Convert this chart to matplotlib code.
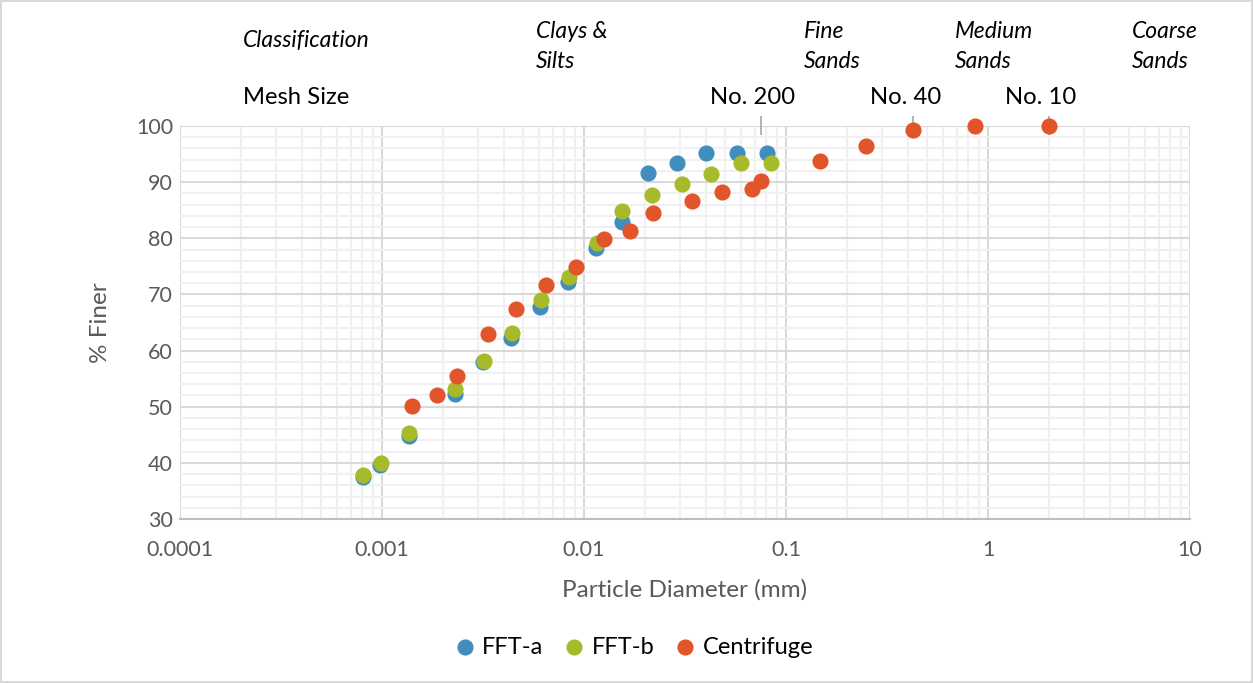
import numpy as np
import matplotlib.pyplot as plt
from matplotlib.ticker import LogLocator, FixedLocator, FuncFormatter

plt.rcParams['font.family'] = ['Lato', 'DejaVu Sans']

# Grain size data (diameter in mm, % finer)
fft_a_d = [0.000805, 0.00098, 0.00136, 0.0023, 0.00316, 0.00435, 0.00605, 0.00834,
           0.01147, 0.0154, 0.0207, 0.0289, 0.0402, 0.0572, 0.0805]
fft_a_p = [37.5, 39.6, 44.8, 52.3, 57.9, 62.2, 67.8, 72.2, 78.3, 82.9, 91.6, 93.4,
           95.2, 95.2, 95.2]

fft_b_d = [0.000805, 0.00099, 0.00136, 0.0023, 0.00319, 0.0044, 0.00612, 0.00843,
           0.0116, 0.0154, 0.0217, 0.0306, 0.0425, 0.0599, 0.0843]
fft_b_p = [37.8, 40.0, 45.3, 53.2, 58.1, 63.1, 69.0, 73.1, 79.2, 84.9, 87.7, 89.6,
           91.5, 93.4, 93.4]

cent_d = [0.00141, 0.00187, 0.00235, 0.00335, 0.0046, 0.00649, 0.00913, 0.01256,
          0.0169, 0.022, 0.0341, 0.0481, 0.0676, 0.075, 0.147, 0.249, 0.427, 0.863, 2.0]
cent_p = [50.1, 52.1, 55.5, 62.9, 67.4, 71.7, 74.9, 79.9, 81.3, 84.5, 86.6, 88.3,
          88.8, 90.2, 93.8, 96.4, 99.2, 100.0, 100.0]

# sieve openings (mm) for No. 200, No. 40, No. 10
mesh_d = [0.075, 0.425, 2.0]

W, H = 1253, 683
fig = plt.figure(figsize=(W / 100, H / 100), dpi=100)
fig.patch.set_edgecolor('#D9D9D9')
fig.patch.set_linewidth(1.5)

ax = fig.add_axes([180 / W, 1 - 519 / H, (1190 - 180) / W, (519 - 126) / H])

ax.scatter(fft_a_d, fft_a_p, s=135, color='#418DBE', label='FFT-a', zorder=3,
           linewidths=0, clip_on=False)
ax.scatter(fft_b_d, fft_b_p, s=135, color='#A7BA2A', label='FFT-b', zorder=4,
           linewidths=0, clip_on=False)
ax.scatter(cent_d, cent_p, s=135, color='#E2552A', label='Centrifuge', zorder=5,
           linewidths=0, clip_on=False)

ax.vlines(mesh_d, 98.4, 101.7, color='#A6A6A6', lw=1.2, clip_on=False, zorder=2)

ax.set_xscale('log')
ax.set_xlim(0.0001, 10)
ax.set_ylim(30, 100)

ax.xaxis.set_major_locator(LogLocator(base=10, numticks=10))
ax.xaxis.set_minor_locator(LogLocator(base=10, subs=np.arange(2, 10), numticks=20))
ax.xaxis.set_major_formatter(FuncFormatter(lambda v, p: f'{v:g}'))
ax.yaxis.set_major_locator(FixedLocator(np.arange(30, 101, 10)))
ax.yaxis.set_minor_locator(FixedLocator(np.arange(30, 101, 2)))

ax.grid(which='major', color='#D9D9D9', lw=1.5, zorder=0)
ax.grid(which='minor', color='#F0F0F0', lw=1.5, zorder=0)
ax.set_axisbelow(True)

for side in ['top', 'right', 'left']:
    ax.spines[side].set_visible(False)
ax.spines['bottom'].set_color('#BFBFBF')
ax.spines['bottom'].set_linewidth(1.5)

ax.tick_params(which='both', length=0, labelsize=15.5, colors='#595959')
ax.tick_params(axis='x', pad=15)
ax.tick_params(axis='y', pad=5)

ax.set_xlabel('Particle Diameter (mm)', fontsize=17.5, color='#595959', labelpad=14)
ax.set_ylabel('% Finer', fontsize=17.5, color='#595959', labelpad=18)

leg = fig.legend(loc='center', bbox_to_anchor=(635 / W, 1 - 647 / H), ncol=3,
                 frameon=False, fontsize=17, handlelength=0.7, handletextpad=0.4,
                 columnspacing=0.95, markerscale=1.0)

# classification and sieve labels above the plot
def label(x, y, s, **kw):
    fig.text(x / W, 1 - y / H, s, va='center', ha='left', **kw)

italic = dict(fontsize=16.5, style='italic', color='black')
label(243, 41, 'Classification', **italic)
label(536, 32, 'Clays &', **italic)
label(536, 61, 'Silts', **italic)
label(804, 32, 'Fine', **italic)
label(804, 61, 'Sands', **italic)
label(955, 32, 'Medium', **italic)
label(955, 61, 'Sands', **italic)
label(1132, 32, 'Coarse', **italic)
label(1132, 61, 'Sands', **italic)

plain = dict(fontsize=17.2, color='black')
label(243, 98, 'Mesh Size', **plain)
label(710, 98, 'No. 200', **plain)
label(870, 98, 'No. 40', **plain)
label(1005, 98, 'No. 10', **plain)

fig.savefig('out.png', dpi=100)
